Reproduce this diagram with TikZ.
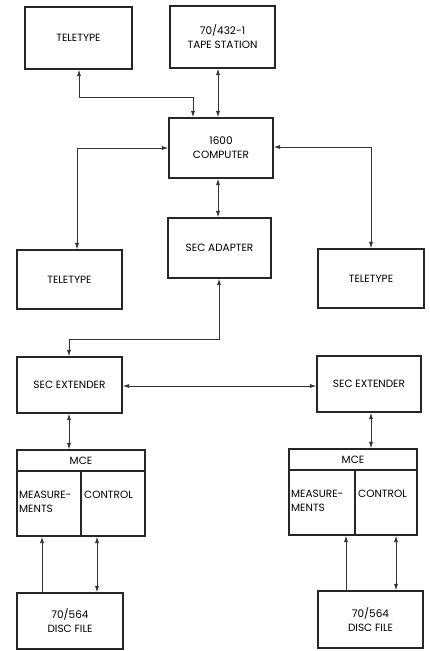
\documentclass[tikz,border=0pt]{standalone}
\usepackage{fontspec}
\setmainfont{Poppins}
\usetikzlibrary{arrows.meta,calc}
\begin{document}
\begin{tikzpicture}[x=1pt,y=-1pt,
  box/.style={draw=black!85, line width=1.3pt, inner sep=0pt, align=center,
    font=\fontsize{10.5}{14}\selectfont},
  lbl/.style={inner sep=0pt, font=\fontsize{10.5}{14}\selectfont},
  conn/.style={draw=black!80, line width=0.9pt},
  >={Latex[length=6.5pt,width=4.2pt]}]
\useasboundingbox (0,0) rectangle (429,651);

% upper row
\node[box, minimum width=107pt, minimum height=62pt] (tty1) at (78.5,38) {TELETYPE};
\node[box, minimum width=105pt, minimum height=62pt] (tape) at (222.5,37) {70/432-1\\TAPE STATION};
\node[box, minimum width=104pt, minimum height=60pt] (cpu) at (221,148) {1600\\COMPUTER};

% middle row
\node[box, minimum width=105pt, minimum height=59pt] (tty2) at (69.5,279.5) {TELETYPE};
\node[box, minimum width=103pt, minimum height=60pt] (adp) at (219.5,248) {SEC ADAPTER};
\node[box, minimum width=106pt, minimum height=59pt] (tty3) at (371,278.5) {TELETYPE};

% extenders
\node[box, minimum width=105pt, minimum height=56pt] (ext1) at (69.5,385) {SEC EXTENDER};
\node[box, minimum width=104pt, minimum height=56pt] (ext2) at (369,384) {SEC EXTENDER};

% MCE units: outer frame, header bar and divider
\node[box, minimum width=128pt, minimum height=86pt] (mce1) at (81,493) {};
\node[box, minimum width=128pt, minimum height=86pt] (mce2) at (353,492) {};
\draw[line width=1.1pt, black!85] (17,471) -- (145,471) (81,471) -- (81,536);
\draw[line width=1.1pt, black!85] (289,470) -- (417,470) (355,470) -- (355,535);
\node[lbl] (mcet1) at (81,461) {MCE};
\node[lbl] (mcet2) at (353,460) {MCE};
\node[lbl, anchor=west, align=left] (meas1) at (19,502) {MEASURE-\\MENTS};
\node[lbl, anchor=west] (ctl1) at (84,495) {CONTROL};
\node[lbl, anchor=west, align=left] (meas2) at (291,501) {MEASURE-\\MENTS};
\node[lbl, anchor=west] (ctl2) at (358,494) {CONTROL};

% disc files
\node[box, minimum width=106pt, minimum height=56pt] (disc1) at (70,621) {70/564\\DISC FILE};
\node[box, minimum width=105pt, minimum height=57pt] (disc2) at (370.5,619.5) {70/564\\DISC FILE};

% connector columns
\coordinate (c1) at (79,97);
\coordinate (c2) at (193,97);
\coordinate (c3) at (77,148);
\coordinate (c4) at (371,147);
\coordinate (c5) at (219,339);
\coordinate (c6) at (69,339);
\coordinate (m1a) at (42,0);
\coordinate (m1b) at (97,0);
\coordinate (m2a) at (346,0);
\coordinate (m2b) at (396,0);

\draw[conn,<->] (c1 |- tty1.south) -- (c1) -- (c2) -- (c2 |- cpu.north);
\draw[conn,<->] (218,0 |- tape.south) -- (218,0 |- cpu.north);
\draw[conn,<->] (cpu.west |- c3) -- (c3) -- (c3 |- tty2.north);
\draw[conn,<->] (cpu.east |- c4) -- (c4) -- (c4 |- tty3.north);
\draw[conn,<->] (218,0 |- cpu.south) -- (218,0 |- adp.north);
\draw[conn,<->] (c5 |- adp.south) -- (c5) -- (c6) -- (c6 |- ext1.north);
\draw[conn,<->] (ext1.east |- 0,386) -- (ext2.west |- 0,386);
\draw[conn,<->] (69,0 |- ext1.south) -- (69,0 |- mce1.north);
\draw[conn,<->] (371,0 |- ext2.south) -- (371,0 |- mce2.north);
\draw[conn,->] (m1a |- disc1.north) -- (m1a |- mce1.south);
\draw[conn,<->] (m1b |- mce1.south) -- (m1b |- disc1.north);
\draw[conn,->] (m2a |- disc2.north) -- (m2a |- mce2.south);
\draw[conn,<->] (m2b |- mce2.south) -- (m2b |- disc2.north);
\end{tikzpicture}
\end{document}
